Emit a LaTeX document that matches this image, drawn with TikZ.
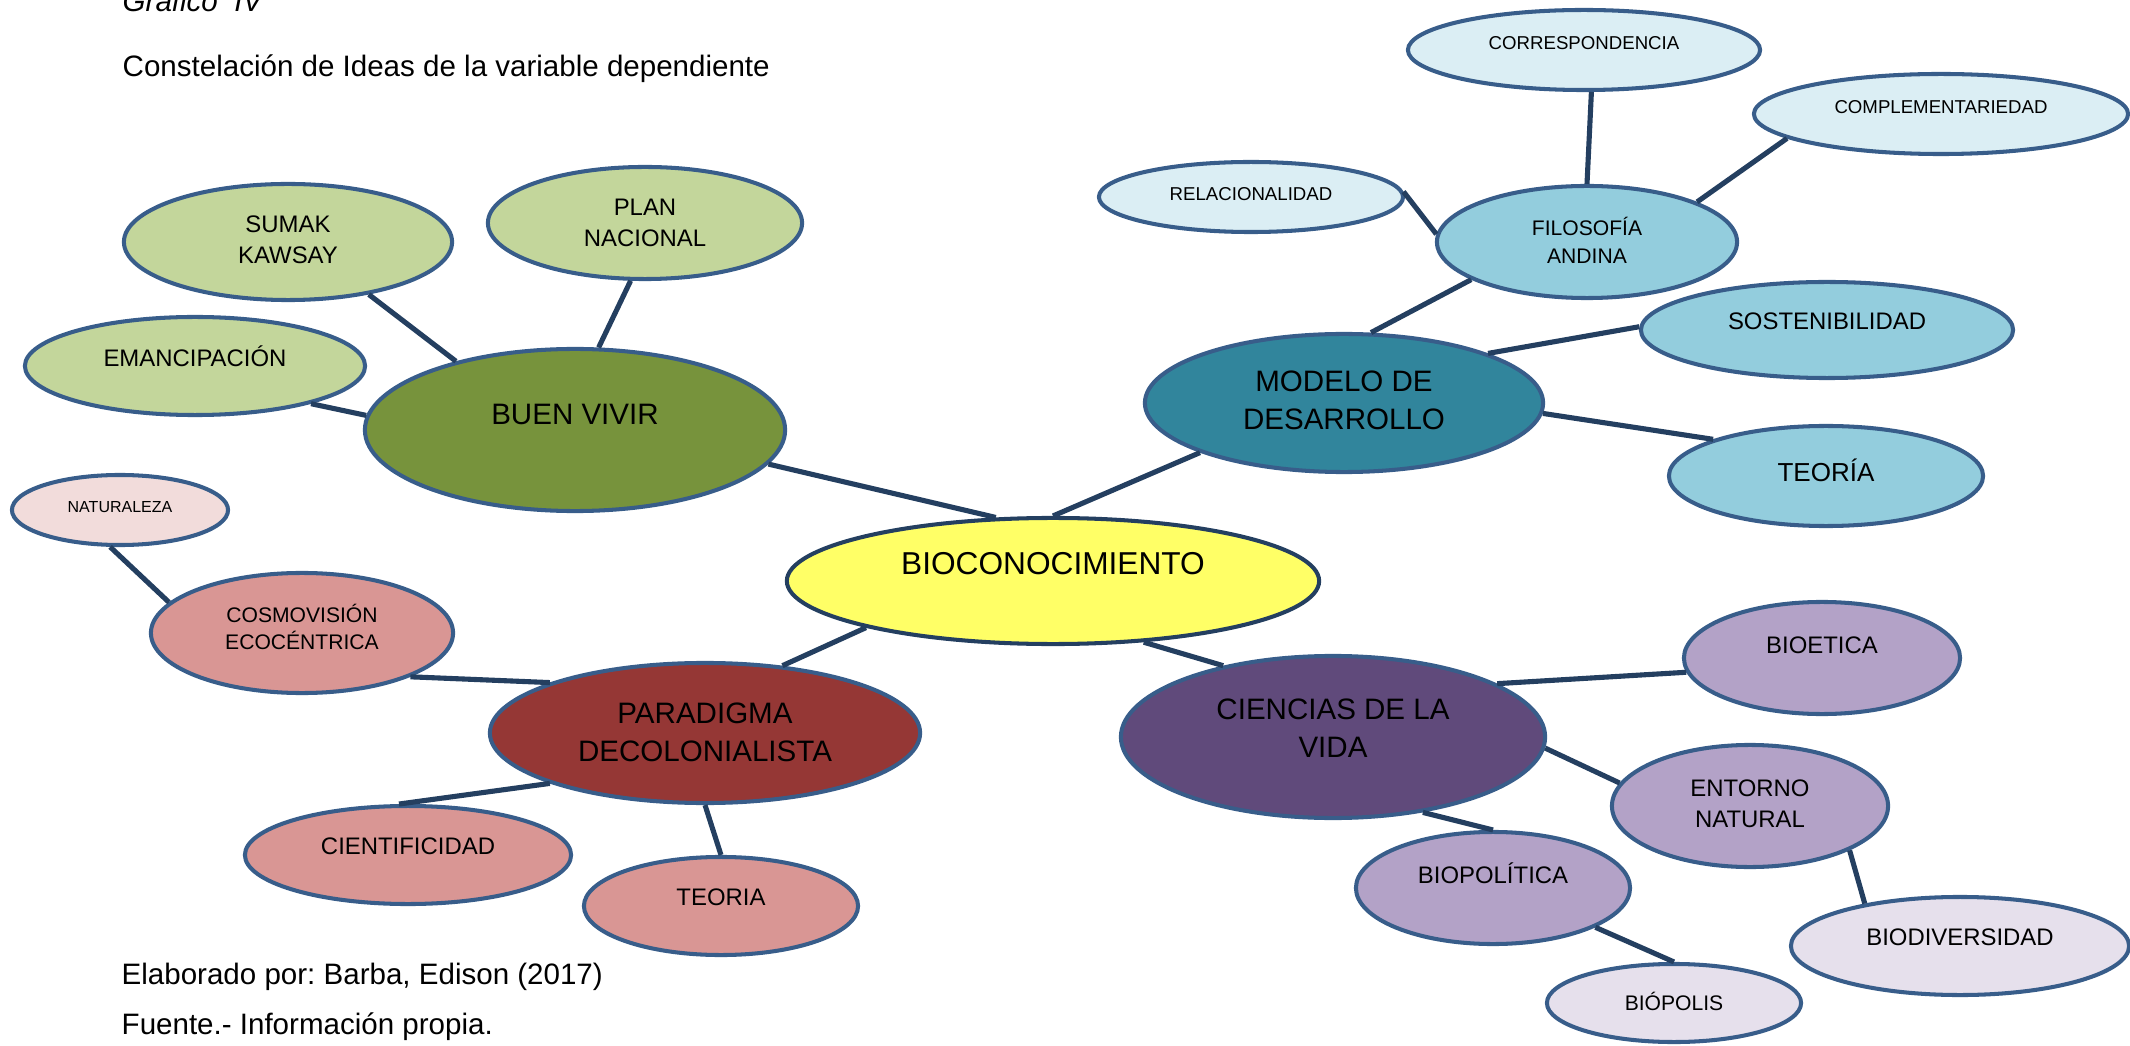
\documentclass[tikz,border=0pt]{standalone}
\usepackage{fontspec}
\setmainfont{Liberation Sans}
\usetikzlibrary{shapes.geometric}
\frenchspacing
\definecolor{bordc}{HTML}{385D8A}
\definecolor{linkc}{HTML}{243F60}
\definecolor{amar}{HTML}{FFFF66}
\definecolor{verdeO}{HTML}{77933C}
\definecolor{verdeC}{HTML}{C3D69B}
\definecolor{azulO}{HTML}{31859C}
\definecolor{azulM}{HTML}{93CDDD}
\definecolor{azulC}{HTML}{DBEEF4}
\definecolor{moradoO}{HTML}{604A7B}
\definecolor{moradoM}{HTML}{B3A2C7}
\definecolor{moradoC}{HTML}{E6E0EC}
\definecolor{rojoO}{HTML}{953735}
\definecolor{rojoM}{HTML}{D99694}
\definecolor{rojoC}{HTML}{F2DCDB}
\begin{document}
\begin{tikzpicture}[x=0.01cm,y=-0.01cm,
	ell/.style={ellipse,draw=bordc,line width=1.15pt,inner sep=0pt},
	link/.style={draw=linkc,line width=1.45pt},
	tg/.style={font=\fontsize{8.4}{10.8}\selectfont,align=center,inner sep=0pt},
	tm/.style={font=\fontsize{6.8}{8.8}\selectfont,align=center,inner sep=0pt},
	ts/.style={font=\fontsize{6}{7.9}\selectfont,align=center,inner sep=0pt},
	txs/.style={font=\fontsize{5.3}{7}\selectfont,align=center,inner sep=0pt},
	plain/.style={font=\fontsize{8.4}{10}\selectfont,anchor=base west,inner sep=0pt}]
	\useasboundingbox (0,0) rectangle (2130,1046);
	% titulos
	\node[plain,font=\fontsize{8.4}{10}\selectfont\itshape] (graf) at (122,12) {Gráfico\ \ IV};
	\node[plain] (tit) at (122,77) {Constelación de Ideas de la variable dependiente};
	\node[plain] (elab) at (121,984) {Elaborado por: Barba, Edison (2017)};
	\node[plain] (fuente) at (121,1034) {Fuente.- Información propia.};
	% centro
	\node[ell,draw=linkc,fill=amar,minimum width=5.32cm,minimum height=1.26cm] (bio) at (1053,581) {};
	% buen vivir
	\node[ell,fill=verdeO,minimum width=4.2cm,minimum height=1.62cm] (bv) at (575,430) {};
	\node[ell,fill=verdeC,minimum width=3.28cm,minimum height=1.16cm] (sumak) at (288,242) {};
	\node[ell,fill=verdeC,minimum width=3.14cm,minimum height=1.12cm] (plan) at (645,223) {};
	\node[ell,fill=verdeC,minimum width=3.4cm,minimum height=0.98cm] (eman) at (195,366) {};
	% modelo de desarrollo
	\node[ell,fill=azulO,minimum width=3.98cm,minimum height=1.38cm] (mod) at (1344,403) {};
	\node[ell,fill=azulM,minimum width=3cm,minimum height=1.12cm] (fil) at (1587,242) {};
	\node[ell,fill=azulM,minimum width=3.72cm,minimum height=0.96cm] (sost) at (1827,330) {};
	\node[ell,fill=azulM,minimum width=3.14cm,minimum height=1cm] (teo1) at (1826,476) {};
	\node[ell,fill=azulC,minimum width=3.52cm,minimum height=0.8cm] (corr) at (1584,50) {};
	\node[ell,fill=azulC,minimum width=3.74cm,minimum height=0.8cm] (compl) at (1941,114) {};
	\node[ell,fill=azulC,minimum width=3.04cm,minimum height=0.7cm] (rel) at (1251,197) {};
	% ciencias de la vida
	\node[ell,fill=moradoO,minimum width=4.24cm,minimum height=1.62cm] (cien) at (1333,737) {};
	\node[ell,fill=moradoM,minimum width=2.76cm,minimum height=1.12cm] (bioet) at (1822,658) {};
	\node[ell,fill=moradoM,minimum width=2.76cm,minimum height=1.22cm] (ent) at (1750,806) {};
	\node[ell,fill=moradoM,minimum width=2.74cm,minimum height=1.12cm] (biopol) at (1493,888) {};
	\node[ell,fill=moradoC,minimum width=3.38cm,minimum height=0.98cm] (biodiv) at (1960,946) {};
	\node[ell,fill=moradoC,minimum width=2.54cm,minimum height=0.78cm] (biopolis) at (1674,1003) {};
	% paradigma
	\node[ell,fill=rojoO,minimum width=4.3cm,minimum height=1.4cm] (par) at (705,733) {};
	\node[ell,fill=rojoM,minimum width=3.02cm,minimum height=1.2cm] (cosmo) at (302,633) {};
	\node[ell,fill=rojoM,minimum width=3.26cm,minimum height=0.98cm] (cient) at (408,855) {};
	\node[ell,fill=rojoM,minimum width=2.74cm,minimum height=0.98cm] (teo2) at (721,906) {};
	\node[ell,fill=rojoC,minimum width=2.16cm,minimum height=0.7cm] (nat) at (120,510) {};
	% conectores
	\draw[link] (bv.-10) -- (bio.132);
	\draw[link] (mod.-161) -- (bio.90);
	\draw[link] (par.41) -- (bio.194);
	\draw[link] (bio.-34) -- (cien.147);
	\draw[link] (sumak.-33) -- (bv.150);
	\draw[link] (plan.-104) -- (bv.74);
	\draw[link] (eman.-18) -- (bv.176);
	\draw[link] (corr.-80) -- (fil.90);
	\draw[link] (compl.189) -- (fil.20);
	\draw[link] (rel.2) -- (fil.177);
	\draw[link] (fil.-162) -- (mod.69);
	\draw[link] (sost.179) -- (mod.19);
	\draw[link] (mod.-3) -- (teo1.162);
	\draw[link] (cien.18) -- (bioet.186);
	\draw[link] (cien.-3) -- (ent.170);
	\draw[link] (cien.-40) -- (biopol.90);
	\draw[link] (biopol.-21) -- (biopolis.90);
	\draw[link] (ent.-24) -- (biodiv.156);
	\draw[link] (nat.-105) -- (cosmo.167);
	\draw[link] (cosmo.-22) -- (par.162);
	\draw[link] (par.-162) -- (cient.100);
	\draw[link] (par.-90) -- (teo2.90);
	% textos
	\node[tg,font=\fontsize{9}{11}\selectfont] (biot) at (1053,564) {BIOCONOCIMIENTO};
	\node[tg] (bvt) at (575,414) {BUEN VIVIR};
	\node[tm] (sumakt) at (288,240) {SUMAK\\KAWSAY};
	\node[tm] (plant) at (645,223) {PLAN\\NACIONAL};
	\node[tm] (emant) at (195,356) {EMANCIPACIÓN};
	\node[tg] (modt) at (1344,400) {MODELO DE\\DESARROLLO};
	\node[ts] (filt) at (1587,240) {FILOSOFÍA\\ANDINA};
	\node[tm] (sostt) at (1827,321) {SOSTENIBILIDAD};
	\node[tm,font=\fontsize{7.4}{9}\selectfont] (teo1t) at (1826,470) {TEORÍA};
	\node[txs] (corrt) at (1584,43) {CORRESPONDENCIA};
	\node[txs] (complt) at (1941,107) {COMPLEMENTARIEDAD};
	\node[txs] (relt) at (1251,194) {RELACIONALIDAD};
	\node[tg] (cient2) at (1333,728) {CIENCIAS DE LA\\VIDA};
	\node[tm] (bioett) at (1822,645) {BIOETICA};
	\node[tm] (entt) at (1750,804) {ENTORNO\\NATURAL};
	\node[tm] (biopolt) at (1493,873) {BIOPOLÍTICA};
	\node[tm] (biodivt) at (1960,937) {BIODIVERSIDAD};
	\node[ts] (biopolist) at (1674,1001) {BIÓPOLIS};
	\node[tg] (part) at (705,732) {PARADIGMA\\DECOLONIALISTA};
	\node[ts] (cosmot) at (302,627) {COSMOVISIÓN\\ECOCÉNTRICA};
	\node[tm] (cientt) at (408,846) {CIENTIFICIDAD};
	\node[tm] (teo2t) at (721,897) {TEORIA};
	\node[txs,font=\fontsize{4.55}{6}\selectfont] (natt) at (120,507) {NATURALEZA};
\end{tikzpicture}
\end{document}
